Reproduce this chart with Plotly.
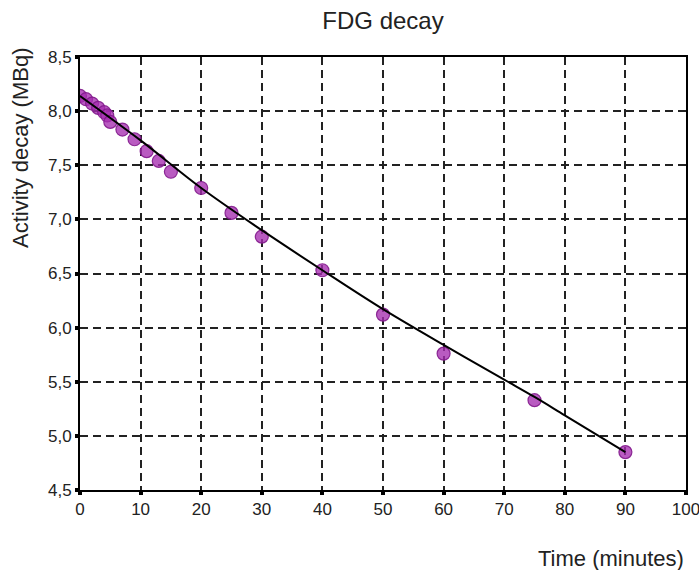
import plotly.graph_objects as go

# Measured points (time in minutes, activity in MBq)
time_min = [0, 1, 2, 3, 4, 4.5, 5, 7, 9, 11, 13, 15, 20, 25, 30, 40, 50, 60, 75, 90]
activity = [8.14, 8.11, 8.07, 8.03, 7.99, 7.96, 7.90, 7.83, 7.74, 7.63, 7.54, 7.44,
            7.29, 7.06, 6.84, 6.53, 6.12, 5.76, 5.33, 4.85]

# Fitted decay curve
fit_t = [0, 10, 20, 30, 40, 50, 60, 70, 75, 80, 90]
fit_y = [8.14, 7.73, 7.29, 6.90, 6.53, 6.17, 5.84, 5.52, 5.36, 5.19, 4.85]

x_ticks = [0, 10, 20, 30, 40, 50, 60, 70, 80, 90, 100]
y_ticks = [4.5, 5.0, 5.5, 6.0, 6.5, 7.0, 7.5, 8.0, 8.5]

fig = go.Figure()
fig.add_trace(go.Scatter(
    x=time_min, y=activity, mode="markers",
    marker=dict(size=13, color="rgba(165,45,175,0.78)",
                line=dict(width=1.2, color="rgba(130,25,140,0.9)")),
    showlegend=False, hoverinfo="skip"))
fig.add_trace(go.Scatter(
    x=fit_t, y=fit_y, mode="lines", line=dict(color="black", width=2, shape="spline"),
    showlegend=False, hoverinfo="skip"))

font_family = "Liberation Sans, Arial, sans-serif"

fig.update_layout(
    width=699, height=570,
    margin=dict(l=80, r=13, t=57, b=80, autoexpand=False),
    paper_bgcolor="white", plot_bgcolor="white",
    separators=",.",
    font=dict(family=font_family, size=17, color="#222"),
    title=dict(text="FDG decay", x=(80 + 686) / 2 / 699, xanchor="center",
               y=1 - 21 / 570, yanchor="middle",
               font=dict(size=24, color="#222")),
    xaxis=dict(range=[0, 100], tickvals=x_ticks, tickformat="d", automargin=False,
               showline=True, linecolor="black", linewidth=2, mirror=True,
               ticks="outside", ticklen=3, tickwidth=4, tickcolor="black",
               showgrid=True, gridcolor="#222", gridwidth=2, griddash="8px,5px",
               zeroline=False, tickfont=dict(size=17), ticklabeloverflow="allow"),
    yaxis=dict(range=[4.5, 8.5], tickvals=y_ticks, tickformat=".1f", automargin=False,
               showline=True, linecolor="black", linewidth=2, mirror=True,
               ticks="outside", ticklen=3, tickwidth=4, tickcolor="black",
               showgrid=True, gridcolor="#222", gridwidth=2, griddash="8px,5px",
               zeroline=False, tickfont=dict(size=17), ticklabeloverflow="allow"),
    annotations=[
        dict(text="Activity decay (MBq)", textangle=-90, xref="paper", yref="paper",
             x=-60 / 606, xanchor="center", y=(490 - 148) / 433, yanchor="middle",
             showarrow=False, font=dict(size=22, color="#222")),
        dict(text="Time (minutes)", xref="paper", yref="paper",
             x=(686 - 80) / 606, xanchor="right", y=-(558 - 490) / 433, yanchor="middle",
             showarrow=False, font=dict(size=22, color="#222")),
    ],
)

fig.write_html("out.html")
